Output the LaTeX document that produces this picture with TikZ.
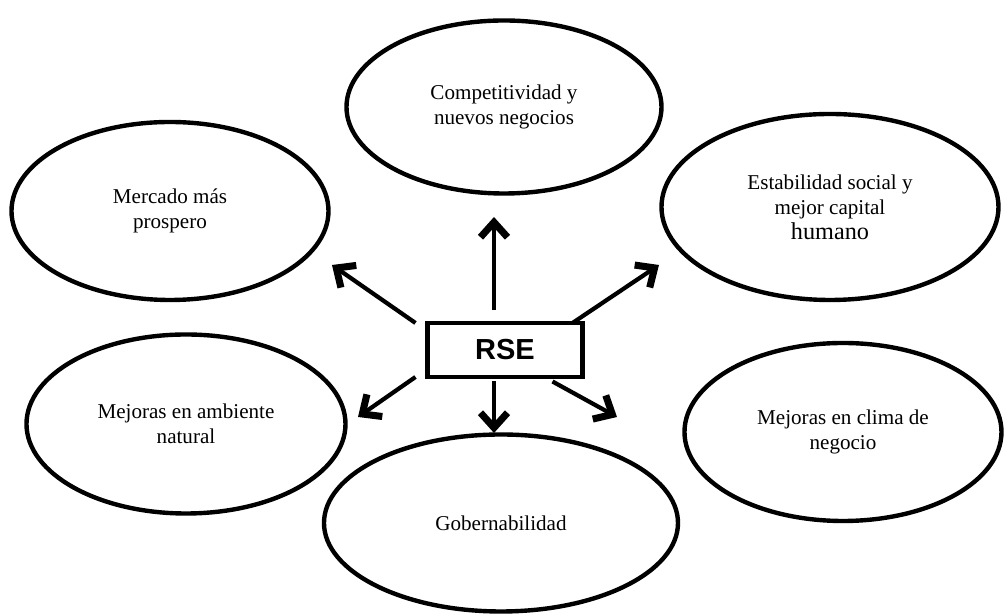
\documentclass[tikz,border=0pt]{standalone}
\usepackage{fontspec}
\setmainfont{Liberation Serif}
\newfontfamily\hubfont{Liberation Sans}
\usetikzlibrary{shapes.geometric,arrows.meta,positioning}

\begin{document}
\begin{tikzpicture}[
  outcome/.style={ellipse, draw, line width=2.5pt, inner sep=0pt, align=center,
    font=\fontsize{12}{14.2}\selectfont},
  hub/.style={rectangle, draw, line width=2.8pt, outer sep=0pt,
    minimum width=3.1cm, minimum height=1.08cm,
    font=\hubfont\bfseries\fontsize{16.5}{20}\selectfont},
  link/.style={line width=2.4pt, -{Straight Barb[length=3mm,width=5.4mm,line width=4pt,line cap=butt,line join=miter]}}
]
\useasboundingbox (-10.1,-5.28) rectangle (9.98,7.0);

%% RSE
\node[hub](rse){RSE};

%% effects of RSE
\node[outcome, minimum width=6.3cm, minimum height=3.46cm, xshift=-0.02cm, yshift=4.86cm](comp){Competitividad y\\nuevos negocios};
\node[outcome, minimum width=6.34cm, minimum height=3.56cm, xshift=-6.7cm, yshift=2.78cm](mercado){Mercado más\\prospero};
\node[outcome, minimum width=6.74cm, minimum height=3.72cm, xshift=6.5cm, yshift=2.86cm](estab){Estabilidad social y\\mejor capital\\{\fontsize{13.8}{14.2}\selectfont humano}};
\node[outcome, minimum width=6.38cm, minimum height=3.58cm, xshift=-6.38cm, yshift=-1.48cm](ambiente){Mejoras en ambiente\\natural};
\node[outcome, minimum width=7.08cm, minimum height=3.54cm, xshift=-0.08cm, yshift=-3.46cm](gober){Gobernabilidad};
\node[outcome, minimum width=6.34cm, minimum height=3.56cm, xshift=6.76cm, yshift=-1.64cm](clima){Mejoras en clima de\\negocio};

%% arrow tips
\coordinate (tip_comp) at (-0.22,2.66);
\coordinate (tip_mercado) at (-3.46,1.7);
\coordinate (tip_estab) at (3.08,1.7);
\coordinate (tip_ambiente) at (-2.94,-1.34);
\coordinate (tip_gober) at (-0.22,-1.66);
\coordinate (tip_clima) at (2.24,-1.34);

\draw[link] ([xshift=-0.22cm, yshift=0.25cm]rse.north) -- (tip_comp);
\draw[link] ([xshift=-0.24cm]rse.north west) -- (tip_mercado);
\draw[link] ([xshift=-0.2cm]rse.north east) -- (tip_estab);
\draw[link] ([xshift=-0.24cm]rse.south west) -- (tip_ambiente);
\draw[link] ([xshift=-0.22cm, yshift=-0.09cm]rse.south) -- (tip_gober);
\draw[link] ([xshift=-0.6cm, yshift=-0.09cm]rse.south east) -- (tip_clima);

\end{tikzpicture}
\end{document}
